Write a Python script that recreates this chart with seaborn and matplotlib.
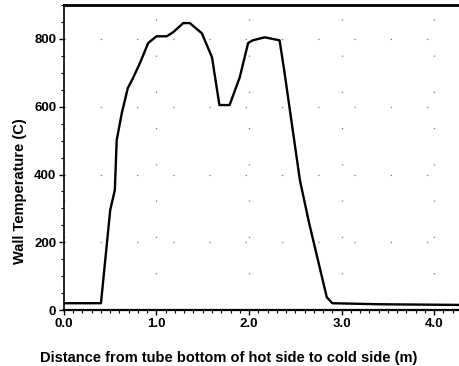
import numpy as np
import pandas as pd
import matplotlib
matplotlib.use("Agg")
import matplotlib.pyplot as plt
from matplotlib.ticker import MultipleLocator, FormatStrFormatter
import seaborn as sns

distance = [0.0, 0.40, 0.50, 0.55, 0.57, 0.625, 0.69, 0.745, 0.82, 0.91, 1.0, 1.11, 1.18,
            1.29, 1.36, 1.49, 1.60, 1.68, 1.79, 1.90, 1.99, 2.04, 2.17, 2.33, 2.38,
            2.55, 2.65, 2.84, 2.90, 3.40, 4.27]
temperature = [20, 20, 295, 354, 501, 581, 655, 684, 728, 788, 808, 808, 820,
               847, 847, 817, 746, 605, 605, 687, 788, 796, 805, 796, 708,
               383, 256, 38, 20, 17, 15]

xlabel = "Distance from tube bottom of hot side to cold side (m)"
ylabel = "Wall Temperature (C)"

df = pd.DataFrame({"x": distance, "y": temperature})

sns.set_style("white")
plt.rcParams["font.family"] = ["Liberation Sans", "DejaVu Sans"]
plt.rcParams["text.color"] = "black"
plt.rcParams["axes.labelcolor"] = "black"
plt.rcParams["xtick.color"] = "black"
plt.rcParams["ytick.color"] = "black"

fig = plt.figure(figsize=(4.6, 3.66), dpi=100)
ax = fig.add_axes([0.139, 0.153, 0.859, 0.833])

sns.lineplot(data=df, x="x", y="y", ax=ax, color="black", linewidth=1.7, sort=False)

ax.set_xlim(0, 4.27)
ax.set_ylim(0, 900)
ax.xaxis.set_major_locator(MultipleLocator(1.0))
ax.xaxis.set_minor_locator(MultipleLocator(0.1))
ax.yaxis.set_major_locator(MultipleLocator(200))
ax.yaxis.set_minor_locator(MultipleLocator(50))
ax.xaxis.set_major_formatter(FormatStrFormatter("%.1f"))

ax.grid(True, which="major", color="#777777", linestyle=(0, (1, 28)), linewidth=0.9)

ax.tick_params(axis="both", which="both", bottom=True, left=True, top=False, right=False)
ax.tick_params(axis="both", which="major", direction="out", length=3.5, width=1,
               labelsize=9.5, colors="black", pad=2)
ax.tick_params(axis="both", which="minor", direction="out", length=2, width=0.8, colors="black")
for lab in ax.get_xticklabels() + ax.get_yticklabels():
    lab.set_fontweight("bold")

for side in ["left", "bottom", "top"]:
    ax.spines[side].set_color("black")
ax.spines["left"].set_linewidth(1.2)
ax.spines["bottom"].set_linewidth(1.6)
ax.spines["top"].set_linewidth(2.0)
ax.spines["right"].set_visible(False)

ax.set_xlabel(xlabel, fontsize=10.5, fontweight="bold")
ax.set_ylabel(ylabel, fontsize=10.5, fontweight="bold")
ax.xaxis.set_label_coords(0.417, -0.135)
ax.yaxis.set_label_coords(-0.093, 0.39)

fig.savefig("out.png", dpi=100)
